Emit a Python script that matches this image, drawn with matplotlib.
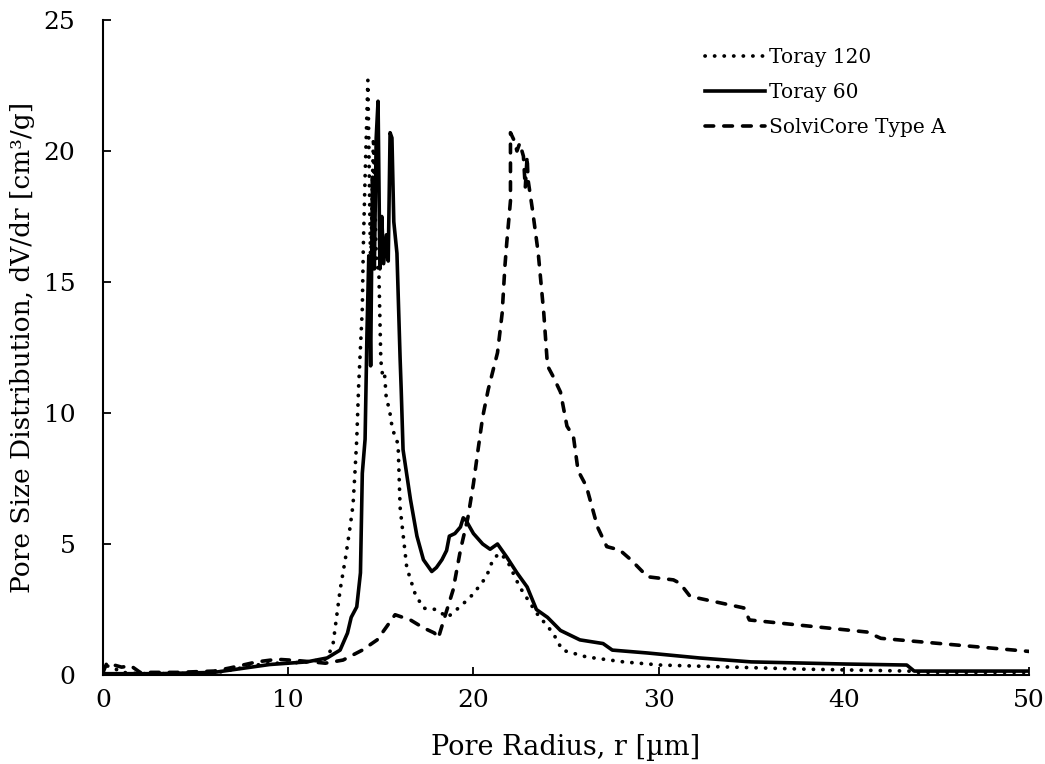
import matplotlib
matplotlib.use("Agg")
import matplotlib.pyplot as plt

# Pore radius r [µm] and dV/dr [cm³/g] for each material
toray120_r = [0, 0.2, 0.5, 1.0, 2, 4, 6, 7, 8, 9, 10, 11, 12, 12.4, 12.8, 13.1, 13.34, 13.5,
              13.6, 13.7, 13.8, 13.9, 14.0, 14.05, 14.15, 14.3, 14.45, 14.6, 14.75, 14.9,
              15.0, 15.1, 15.2, 15.3, 15.45, 15.6, 15.8, 15.93, 16.04, 16.4, 16.85, 17.3,
              18.0, 18.6, 19.1, 19.65, 20.0, 20.7, 21.05, 21.4, 21.8, 22.5, 23.4, 24.3,
              24.8, 26.1, 28.1, 30.1, 34, 38, 43.5, 44, 50]
toray120_v = [0.05, 0.35, 0.3, 0.1, 0.05, 0.05, 0.08, 0.2, 0.35, 0.45, 0.45, 0.5, 0.6, 1.07,
              3.24, 4.5, 5.65, 6.5, 7.7, 9.0, 11.0, 12.5, 14.0, 16.2, 19.0, 22.7, 15.5, 20.5,
              16.0, 15.2, 12.0, 11.4, 11.5, 10.5, 10.2, 9.5, 9.0, 8.85, 6.4, 4.1, 3.1, 2.55,
              2.5, 2.2, 2.5, 2.85, 3.1, 3.75, 4.4, 4.65, 4.4, 3.36, 2.37, 1.6, 0.95, 0.69,
              0.5, 0.38, 0.3, 0.22, 0.15, 0.1, 0.1]

toray60_r = [0, 3, 6, 7, 8, 9, 10, 11, 12.1, 12.8, 13.2, 13.4, 13.7, 13.9, 14.0, 14.15,
             14.25, 14.35, 14.45, 14.55, 14.65, 14.75, 14.85, 14.95, 15.05, 15.15, 15.3,
             15.4, 15.5, 15.6, 15.7, 15.87, 16.04, 16.1, 16.2, 16.6, 16.95, 17.3, 17.75,
             18.0, 18.3, 18.55, 18.7, 19.0, 19.3, 19.45, 19.6, 20.0, 20.5, 20.9, 21.3,
             21.8, 22.35, 22.9, 23.4, 24.0, 24.7, 25.75, 27.0, 27.5, 29.4, 32.2, 35, 40,
             43.4, 43.8, 50]
toray60_v = [0.05, 0.05, 0.1, 0.2, 0.3, 0.4, 0.45, 0.5, 0.65, 0.95, 1.6, 2.2, 2.6, 3.9,
             7.7, 9.0, 13.0, 16.0, 11.8, 19.0, 15.5, 20.5, 21.9, 15.5, 17.5, 15.7, 16.8,
             15.8, 20.7, 20.5, 17.3, 16.1, 12.1, 10.9, 8.6, 6.7, 5.3, 4.4, 3.95, 4.1, 4.4,
             4.75, 5.3, 5.4, 5.65, 6.0, 5.9, 5.4, 5.0, 4.8, 5.0, 4.5, 3.9, 3.36, 2.5, 2.2,
             1.7, 1.34, 1.2, 0.95, 0.84, 0.65, 0.5, 0.42, 0.38, 0.15, 0.15]

solvicore_r = [0, 0.2, 0.5, 1.0, 1.5, 2.0, 4, 6, 6.86, 8.3, 9.4, 10.5, 11.3, 12.0, 12.96,
               14.0, 14.8, 15.3, 15.77, 16.6, 17.3, 17.9, 18.1, 18.4, 18.9, 19.3, 19.7,
               20.0, 20.25, 20.5, 20.8, 21.3, 21.55, 21.7, 21.8, 22.0, 22.0, 22.2, 22.35,
               22.5, 22.7, 22.8, 22.9, 22.95, 23.2, 23.5, 23.8, 24.0, 24.3, 24.7, 25.05,
               25.4, 25.65, 26.1, 26.7, 27.2, 27.9, 28.5, 29.4, 30.8, 31.15, 31.7, 34.6,
               34.9, 41.25, 42.0, 50]
solvicore_v = [0.1, 0.45, 0.4, 0.3, 0.35, 0.1, 0.1, 0.15, 0.27, 0.5, 0.6, 0.55, 0.5, 0.45,
               0.57, 0.95, 1.34, 1.83, 2.3, 2.1, 1.8, 1.6, 1.4, 2.1, 3.24, 4.77, 6.0, 7.3,
               8.6, 9.85, 10.9, 12.3, 13.8, 15.6, 16.5, 18.1, 20.7, 20.4, 20.0, 20.3, 19.8,
               18.6, 19.8, 18.9, 17.7, 16.1, 13.8, 11.8, 11.4, 10.8, 9.5, 9.1, 7.8, 7.2,
               5.65, 4.9, 4.77, 4.4, 3.75, 3.63, 3.5, 3.0, 2.56, 2.1, 1.64, 1.4, 0.9]

series_labels = ["Toray 120", "Toray 60", "SolviCore Type A"]
x_ticks = [0, 10, 20, 30, 40, 50]
y_ticks = [0, 5, 10, 15, 20, 25]

plt.rcParams["font.family"] = ["DejaVu Serif"]

fig = plt.figure(figsize=(10.45, 7.64), dpi=100)
ax = fig.add_axes([0.0986, 0.1165, 0.8861, 0.8573])

ax.plot(toray120_r, toray120_v, color="black", lw=2.7,
        linestyle=(0, (0.05, 2.5)), dash_capstyle="round", label=series_labels[0])
ax.plot(toray60_r, toray60_v, color="black", lw=2.6, solid_joinstyle="round",
        label=series_labels[1])
ax.plot(solvicore_r, solvicore_v, color="black", lw=2.6,
        linestyle=(0, (2.4, 2.8)), dash_capstyle="round", label=series_labels[2])

ax.set_xlim(0, 50)
ax.set_ylim(0, 25)
ax.set_xticks(x_ticks)
ax.set_yticks(y_ticks)
ax.tick_params(direction="in", length=6, width=1.3, labelsize=18, colors="black")
ax.tick_params(axis="x", pad=10)
ax.tick_params(axis="y", pad=20)
for side in ("top", "right"):
    ax.spines[side].set_visible(False)
for side in ("left", "bottom"):
    ax.spines[side].set_linewidth(1.5)

ax.set_xlabel("Pore Radius, r [µm]", fontsize=19.5, va="center")
ax.set_ylabel("Pore Size Distribution, dV/dr [cm³/g]", fontsize=19, va="center")
ax.xaxis.set_label_coords(0.5, -0.111)
ax.yaxis.set_label_coords(-0.0875, 0.5)

ax.legend(loc="upper right", bbox_to_anchor=(0.93, 0.985), frameon=False, fontsize=14.5,
          handlelength=3.0, handletextpad=0.2, labelspacing=0.8)

fig.savefig("out.png", dpi=100)
